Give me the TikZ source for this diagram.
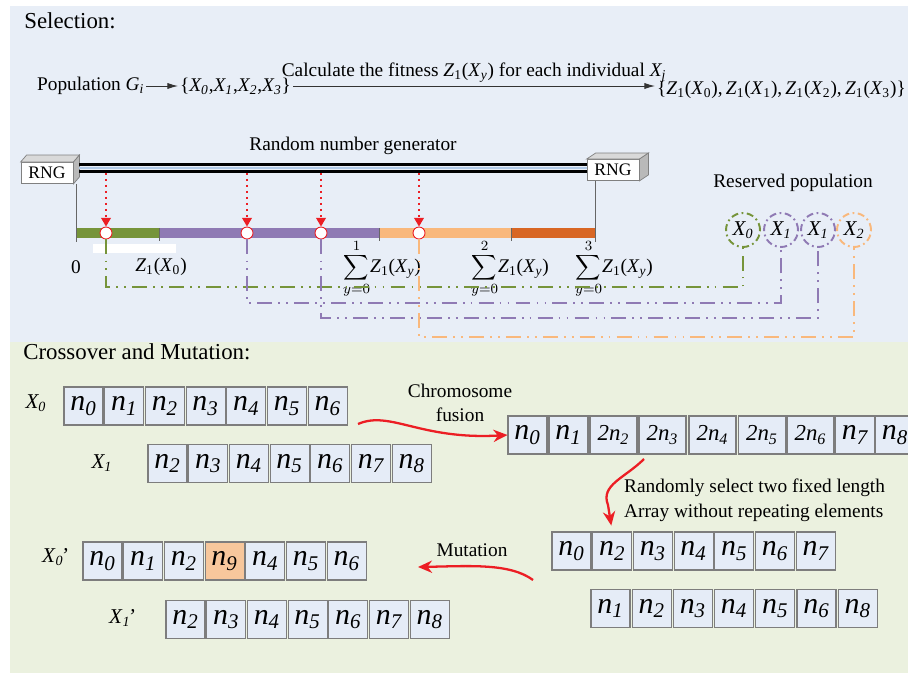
\documentclass[tikz,border=0pt]{standalone}
\usepackage{fontspec}
\setmainfont{Liberation Serif}
\usetikzlibrary{arrows.meta}
\definecolor{gablue}{RGB}{232,238,247}
\definecolor{gagreenbg}{RGB}{235,241,223}
\definecolor{gacellfill}{RGB}{229,236,247}
\definecolor{gaedge}{RGB}{125,125,125}
\definecolor{gapeach}{RGB}{247,199,156}
\definecolor{gared}{RGB}{236,30,36}
\definecolor{gagreen}{RGB}{118,148,58}
\definecolor{gapurple}{RGB}{143,122,180}
\definecolor{gaorange}{RGB}{249,184,124}
\definecolor{gadark}{RGB}{216,102,36}
\definecolor{gaslot}{RGB}{175,200,230}
\newcommand{\gn}[1]{\textit{n\textsubscript{#1}}}
\newcommand{\gnn}[1]{\textit{2n\textsubscript{#1}}}
\newcommand{\gx}[1]{\textit{X\textsubscript{#1}}}
\newcommand{\gz}[1]{\textit{Z}\textsubscript{1}(\textit{X}\textsubscript{#1})}
\tikzset{
  gacell/.style={draw=gaedge, fill=gacellfill, line width=0.6pt, minimum width=0.78cm, minimum height=0.76cm, inner sep=0pt, font=\fontsize{17}{17}\selectfont},
  gawide/.style={gacell, minimum width=0.94cm, font=\fontsize{13}{13}\selectfont},
  gaswap/.style={gacell, fill=gapeach},
  gatext/.style={font=\fontsize{11}{14}\selectfont, inner sep=1pt},
  gahead/.style={font=\fontsize{13}{15}\selectfont, anchor=west, inner sep=0pt},
  galabel/.style={font=\fontsize{12}{12}\selectfont, inner sep=0pt},
  gaarrow/.style={draw=black!80, line width=0.5pt, -{Latex[length=6pt,width=3.5pt]}},
  garail/.style={line width=1.7pt, draw=black, line cap=butt},
  garailmid/.style={line width=1.7pt, draw=gaslot, line cap=butt},
  gatick/.style={draw=black!60, line width=0.5pt},
  gapick/.style={draw=gared, line width=1.1pt, dash pattern=on 1pt off 2.4pt, -{Triangle[width=5.5pt,length=5pt]}},
  gamark/.style={circle, draw=gared, fill=white, line width=0.5pt, minimum size=0.24cm, inner sep=0pt},
  garoute/.style={line width=1.1pt, dash pattern=on 8.5pt off 3.5pt on 1pt off 3.5pt on 1pt off 3.5pt},
  gakeep/.style={circle, line width=1.1pt, dash pattern=on 4pt off 2pt on 1pt off 2pt, minimum size=0.68cm, inner sep=0pt, font=\fontsize{12}{12}\selectfont},
  gacurve/.style={draw=gared, line width=1.3pt, -{Stealth[length=8pt,width=7pt]}},
  garng/.style={draw=gray, fill=white, line width=0.5pt, minimum width=1.04cm, minimum height=0.42cm, inner sep=0pt, font=\fontsize{10}{10}\selectfont},
  garngtop/.style={fill=gray!30, draw=gray, line width=0.4pt},
  garngside/.style={fill=gray!55, draw=gray, line width=0.4pt},
}

\begin{document}
\begin{tikzpicture}[x=0.02cm, y=-0.02cm]
\useasboundingbox (0,0) rectangle (908,673);
\fill[gablue] (10,6) rectangle (908,342);
\fill[gagreenbg] (10,342) rectangle (908,673);

% selection
\node[gahead] (sel) at (24,21) {Selection:};
\node[gatext, anchor=west] (pop) at (35,86) {Population \textit{G\textsubscript{i}}};
\node[gatext, anchor=west] (gen) at (178,86) {\{\gx{0},\gx{1},\gx{2},\gx{3}\}};
\node[gatext, anchor=west] (fit) at (655,90) {\{\gz{0},\,\gz{1},\,\gz{2},\,\gz{3}\}};
\draw[gaarrow] (pop) -- (gen);
\draw[gaarrow] (gen.east) -- (gen.east -| fit.west)
  node[midway, above=1pt, gatext] {Calculate the fitness \gz{\textit{y}} for each individual \textit{X\textsubscript{j}}};

% random number generator
\node[garng] (rngL) at (47,173) {RNG};
\node[garng] (rngR) at (613,170) {RNG};
\filldraw[garngtop] (rngL.north west) -- ([xshift=0.12cm,yshift=0.14cm]rngL.north west) -- ([xshift=0.12cm,yshift=0.14cm]rngL.north east) -- (rngL.north east) -- cycle;
\filldraw[garngside] (rngL.north east) -- ([xshift=0.12cm,yshift=0.14cm]rngL.north east) -- ([xshift=0.12cm,yshift=0.14cm]rngL.south east) -- (rngL.south east) -- cycle;
\filldraw[garngtop] (rngR.north west) -- ([xshift=0.18cm,yshift=0.12cm]rngR.north west) -- ([xshift=0.18cm,yshift=0.12cm]rngR.north east) -- (rngR.north east) -- cycle;
\filldraw[garngside] (rngR.north east) -- ([xshift=0.18cm,yshift=0.12cm]rngR.north east) -- ([xshift=0.18cm,yshift=0.12cm]rngR.south east) -- (rngR.south east) -- cycle;
\coordinate (railL) at (79,168);
\coordinate (railR) at (rngR.west |- railL);
\draw[garail] ([yshift=0.075cm]railL) -- ([yshift=0.075cm]railR);
\draw[garail] ([yshift=-0.075cm]railL) -- ([yshift=-0.075cm]railR);
\draw[garailmid] (railL) -- (railR);
\node[gatext] (rnglabel) at (353,146) {Random number generator};

% roulette bar
\coordinate (b0) at (76,242);
\coordinate (b4) at (595,242);
\fill[white] (93,244) rectangle (176,253);
\fill[gagreen] (76,228) rectangle (159,238);
\fill[gapurple] (159,228) rectangle (379,238);
\fill[gaorange] (379,228) rectangle (511,238);
\fill[gadark] (511,228) rectangle (595,238);
\draw[gatick] (rngL.south -| b0) -- (b0);
\draw[gatick] (rngR.south -| b4) -- (b4);
\draw[gatick] (159,228) -- (159,241);
\draw[gatick] (379,228) -- (379,241);
\draw[gatick] (511,228) -- (511,241);
\node[gatext] (zero) at (76,267) {0};
\node[gatext] (cut0) at (161,267) {\gz{0}};
\node[gatext] (cut1) at (382,269) {$\displaystyle\sum_{y=0}^{1}$\gz{\textit{y}}};
\node[gatext] (cut2) at (510,269) {$\displaystyle\sum_{y=0}^{2}$\gz{\textit{y}}};
\node[gatext] (cut3) at (614,269) {$\displaystyle\sum_{y=0}^{3}$\gz{\textit{y}}};

% reserved population
\node[gatext] (keeplabel) at (793,183) {Reserved population};
\node[gakeep, draw=gagreen] (c0) at (743,230) {\gx{0}};
\node[gakeep, draw=gapurple] (c1) at (781,230) {\gx{1}};
\node[gakeep, draw=gapurple] (c2) at (818,230) {\gx{1}};
\node[gakeep, draw=gaorange] (c3) at (854,230) {\gx{2}};

% spins
\node[gamark] (p0) at (106,233) {};
\node[gamark] (p1) at (247,233) {};
\node[gamark] (p2) at (321,233) {};
\node[gamark] (p3) at (419,233) {};
\coordinate (r0) at (106,173);
\coordinate (r1) at (247,173);
\coordinate (r2) at (321,173);
\coordinate (r3) at (419,173);
\draw[gapick] (r0) -- (p0.north);
\draw[gapick] (r1) -- (p1.north);
\draw[gapick] (r2) -- (p2.north);
\draw[gapick] (r3) -- (p3.north);
\draw[garoute, draw=gagreen] (p0.south) -- (p0 |- 0,287) -| (c0.south);
\draw[garoute, draw=gapurple] (p1.south) -- (p1 |- 0,303) -| (c1.south);
\draw[garoute, draw=gapurple] (p2.south) -- (p2 |- 0,318) -| (c2.south);
\draw[garoute, draw=gaorange] (p3.south) -- (p3 |- 0,337) -| (c3.south);

% crossover and mutation
\node[gahead] (cm) at (23,352) {Crossover and Mutation:};
\node[galabel] (lx0) at (36,403) {\gx{0}};
\node[galabel] (lx1) at (102,463) {\gx{1}};
\node[galabel] (lm0) at (55,557) {\textit{X}\textsubscript{\textit{0}}\kern-0.12em\textit{’}};
\node[galabel] (lm1) at (122,618) {\textit{X}\textsubscript{\textit{1}}\kern-0.12em\textit{’}};

\node[gacell] (pa0) at (83.5,406) {\gn{0}};
\node[gacell] (pa1) at (124.2,406) {\gn{1}};
\node[gacell] (pa2) at (164.9,406) {\gn{2}};
\node[gacell] (pa3) at (205.6,406) {\gn{3}};
\node[gacell] (pa4) at (246.3,406) {\gn{4}};
\node[gacell] (pa5) at (287.0,406) {\gn{5}};
\node[gacell] (pa6) at (327.7,406) {\gn{6}};

\node[gacell] (pb0) at (167.5,463.5) {\gn{2}};
\node[gacell] (pb1) at (208.2,463.5) {\gn{3}};
\node[gacell] (pb2) at (248.9,463.5) {\gn{4}};
\node[gacell] (pb3) at (289.6,463.5) {\gn{5}};
\node[gacell] (pb4) at (330.3,463.5) {\gn{6}};
\node[gacell] (pb5) at (371.0,463.5) {\gn{7}};
\node[gacell] (pb6) at (411.7,463.5) {\gn{8}};

\node[gacell] (f0) at (527.5,435) {\gn{0}};
\node[gacell] (f1) at (568.5,435) {\gn{1}};
\node[gawide] (f2) at (613.5,435) {\gnn{2}};
\node[gawide] (f3) at (662.5,435) {\gnn{3}};
\node[gawide] (f4) at (712.5,435) {\gnn{4}};
\node[gawide] (f5) at (762.0,435) {\gnn{5}};
\node[gawide] (f6) at (810.5,435) {\gnn{6}};
\node[gacell] (f7) at (855.0,435) {\gn{7}};
\node[gacell] (f8) at (895.0,435) {\gn{8}};

\node[gacell] (sa0) at (571.5,551) {\gn{0}};
\node[gacell] (sa1) at (612.2,551) {\gn{2}};
\node[gacell] (sa2) at (652.9,551) {\gn{3}};
\node[gacell] (sa3) at (693.6,551) {\gn{4}};
\node[gacell] (sa4) at (734.3,551) {\gn{5}};
\node[gacell] (sa5) at (775.0,551) {\gn{6}};
\node[gacell] (sa6) at (815.7,551) {\gn{7}};

\node[gacell] (sb0) at (610.5,608.5) {\gn{1}};
\node[gacell] (sb1) at (651.7,608.5) {\gn{2}};
\node[gacell] (sb2) at (692.9,608.5) {\gn{3}};
\node[gacell] (sb3) at (734.1,608.5) {\gn{4}};
\node[gacell] (sb4) at (775.3,608.5) {\gn{5}};
\node[gacell] (sb5) at (816.5,608.5) {\gn{6}};
\node[gacell] (sb6) at (857.7,608.5) {\gn{8}};

\node[gacell] (ma0) at (102.5,561) {\gn{0}};
\node[gacell] (ma1) at (143.2,561) {\gn{1}};
\node[gacell] (ma2) at (183.9,561) {\gn{2}};
\node[gaswap] (ma3) at (224.6,561) {\gn{9}};
\node[gacell] (ma4) at (265.3,561) {\gn{4}};
\node[gacell] (ma5) at (306.0,561) {\gn{5}};
\node[gacell] (ma6) at (346.7,561) {\gn{6}};

\node[gacell] (mb0) at (185.5,619.5) {\gn{2}};
\node[gacell] (mb1) at (226.2,619.5) {\gn{3}};
\node[gacell] (mb2) at (266.9,619.5) {\gn{4}};
\node[gacell] (mb3) at (307.6,619.5) {\gn{5}};
\node[gacell] (mb4) at (348.3,619.5) {\gn{6}};
\node[gacell] (mb5) at (389.0,619.5) {\gn{7}};
\node[gacell] (mb6) at (429.7,619.5) {\gn{8}};

% steps between the arrays
\node[gatext, align=center] (fuselabel) at (460,403) {Chromosome\\fusion};
\node[gatext, align=left, anchor=west] (picklabel) at (622,500) {Randomly select two fixed length\\Array without repeating elements};
\node[gatext] (mutlabel) at (472,550) {Mutation};
\coordinate (fuse) at (358,424);
\coordinate (split) at (644,459);
\coordinate (mut) at (533,580);
\coordinate (mtip) at (418,567);
\draw[gacurve] (fuse) .. controls (390,410) and (420,440) .. (f0.west);
\draw[gacurve, shorten >=0.12cm] (split) .. controls (625,478) and (600,485) .. (608,505) -- (sa1.north);
\draw[gacurve] (mut) .. controls (510,563) and (470,566) .. (mtip);
\end{tikzpicture}
\end{document}
